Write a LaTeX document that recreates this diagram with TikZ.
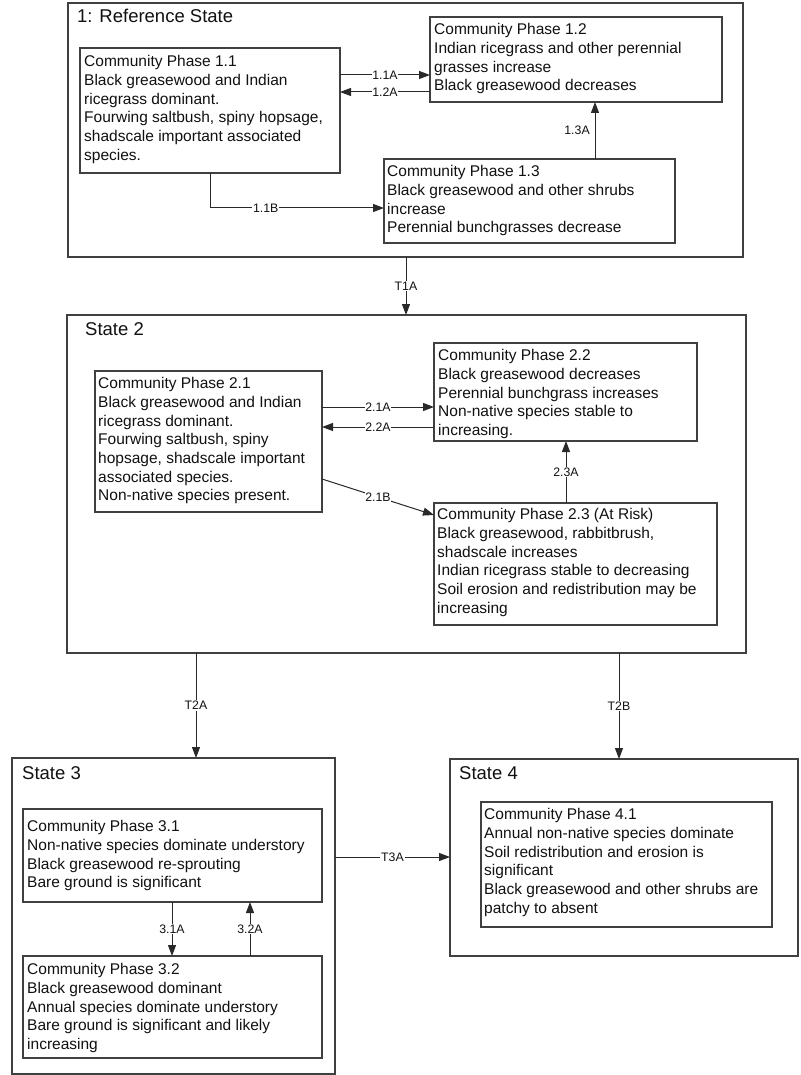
\documentclass[tikz,border=0pt]{standalone}
\usepackage{fontspec}
\setmainfont{Liberation Sans}
\usetikzlibrary{arrows.meta}
\definecolor{edge}{HTML}{404040}
\definecolor{ink}{HTML}{111111}
\begin{document}
\begin{tikzpicture}[x=1pt,y=-1pt,
  frame/.style={draw=edge, line width=1.2pt, anchor=north west, inner sep=0pt, outer sep=0pt},
  body/.style={anchor=north west, inner sep=0pt, align=left, font=\fontsize{15.5}{18.7}\selectfont, text=ink},
  title/.style={anchor=base west, inner sep=0pt, font=\fontsize{18.5}{22}\selectfont, text=ink},
  lab/.style={fill=white, inner sep=0.8pt, font=\fontsize{12.3}{14}\selectfont, text=ink},
  arr/.style={draw=ink!90, line width=1pt, -{Triangle[length=11pt,width=8pt]}}]
\useasboundingbox (0,0) rectangle (800,1075);
\fill[white] (0,0) rectangle (800,1075);

% ---------- State boxes
\node[frame, minimum width=675pt, minimum height=254pt] (s1) at (68,3) {};
\node[frame, minimum width=679pt, minimum height=338pt] (s2) at (67,315) {};
\node[frame, minimum width=323pt, minimum height=316pt] (s3) at (12,758) {};
\node[frame, minimum width=348pt, minimum height=197pt] (s4) at (450,759) {};

\node[title] (s1t) at (77,23) {1: Reference State};
\node[title] (s2t) at (85,335) {State 2};
\node[title] (s3t) at (22,779) {State 3};
\node[title] (s4t) at (459,779) {State 4};

% ---------- Phase boxes
\node[frame, minimum width=260pt, minimum height=125pt] (p11) at (80,48) {};
\node[frame, minimum width=292pt, minimum height=85pt] (p12) at (430,17) {};
\node[frame, minimum width=291pt, minimum height=84pt] (p13) at (384,159) {};
\node[frame, minimum width=227pt, minimum height=141pt] (p21) at (95,371) {};
\node[frame, minimum width=263pt, minimum height=98pt] (p22) at (434,343) {};
\node[frame, minimum width=283pt, minimum height=122pt] (p23) at (434,503) {};
\node[frame, minimum width=299pt, minimum height=93pt] (p31) at (23,809) {};
\node[frame, minimum width=299pt, minimum height=102pt] (p32) at (23,956) {};
\node[frame, minimum width=291pt, minimum height=125pt] (p41) at (481,802) {};

\node[body] (p11t) at (84,55.2) {Community Phase 1.1\\Black greasewood and Indian\\ricegrass dominant.\\Fourwing saltbush, spiny hopsage,\\shadscale important associated\\species.};
\node[body] (p12t) at (434,23.2) {Community Phase 1.2\\Indian ricegrass and other perennial\\grasses increase\\Black greasewood decreases};
\node[body] (p13t) at (387,165.2) {Community Phase 1.3\\Black greasewood and other shrubs\\increase\\Perennial bunchgrasses decrease};
\node[body] (p21t) at (98,377.2) {Community Phase 2.1\\Black greasewood and Indian\\ricegrass dominant.\\Fourwing saltbush, spiny\\hopsage, shadscale important\\associated species.\\Non-native species present.};
\node[body] (p22t) at (438,349.2) {Community Phase 2.2\\Black greasewood decreases\\Perennial bunchgrass increases\\Non-native species stable to\\increasing.};
\node[body] (p23t) at (437,508.2) {Community Phase 2.3 (At Risk)\\Black greasewood, rabbitbrush,\\shadscale increases\\Indian ricegrass stable to decreasing\\Soil erosion and redistribution may be\\increasing};
\node[body] (p31t) at (27,820.2) {Community Phase 3.1\\Non-native species dominate understory\\Black greasewood re-sprouting\\Bare ground is significant};
\node[body] (p32t) at (27,963.2) {Community Phase 3.2\\Black greasewood dominant\\Annual species dominate understory\\Bare ground is significant and likely\\increasing};
\node[body] (p41t) at (484,808.2) {Community Phase 4.1\\Annual non-native species dominate\\Soil redistribution and erosion is\\significant\\Black greasewood and other shrubs are\\patchy to absent};

% ---------- Connectors inside State 1
\draw[arr] (p11.east |- 0,75) -- node[lab] {1.1A} (p12.west |- 0,75);
\draw[arr] (p12.west |- 0,92) -- node[lab] {1.2A} (p11.east |- 0,92);
\draw[arr] (p13.north -| 595,0) -- node[lab, anchor=east, fill=none, xshift=-4pt] {1.3A} (p12.south -| 595,0);
\draw[arr] (p11.south) |- node[lab, pos=0.66] {1.1B} (p13.west |- 0,208);

% ---------- Connectors inside State 2
\draw[arr] (p21.east |- 0,407) -- node[lab] {2.1A} (p22.west |- 0,407);
\draw[arr] (p22.west |- 0,427) -- node[lab] {2.2A} (p21.east |- 0,427);
\draw[arr] (p21.east |- 0,479) -- node[lab] {2.1B} (p23.west |- 0,515);
\draw[arr] (p23.north -| 566,0) -- node[lab] {2.3A} (p22.south -| 566,0);

% ---------- Connectors inside State 3
\draw[arr] (p31.south -| 172,0) -- node[lab] {3.1A} (p32.north -| 172,0);
\draw[arr] (p32.north -| 250,0) -- node[lab] {3.2A} (p31.south -| 250,0);

% ---------- Transitions
\draw[arr] (s1.south -| 406,0) -- node[lab] {T1A} (s2.north -| 406,0);
\draw[arr] (s2.south -| 196,0) -- node[lab] {T2A} (s3.north -| 196,0);
\draw[arr] (s2.south -| 619,0) -- node[lab] {T2B} (s4.north -| 619,0);
\draw[arr] (s3.east |- 0,857) -- node[lab] {T3A} (s4.west |- 0,857);
\end{tikzpicture}
\end{document}
